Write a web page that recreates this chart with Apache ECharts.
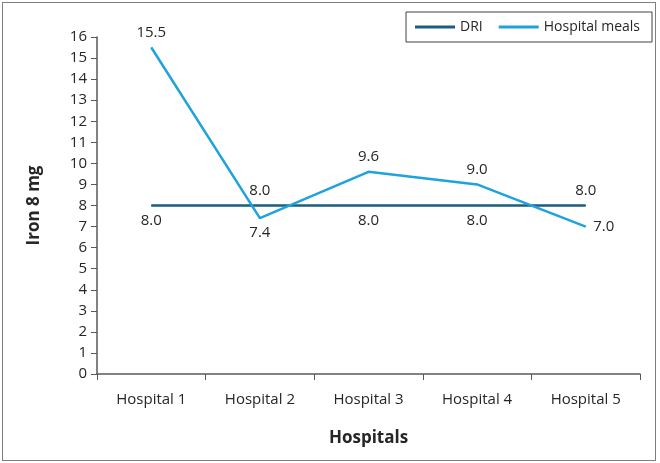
<!DOCTYPE html>
<html>
<head>
<meta charset="utf-8">
<script src="https://cdn.jsdelivr.net/npm/echarts@6/dist/echarts.min.js"></script>
<style>
  html, body { margin: 0; padding: 0; background: #fff; }
  #frame { position: absolute; left: 2px; top: 2px; width: 652px; height: 457px; border: 1px solid #7f7f7f; }
  #chart { position: absolute; left: 0; top: 0; width: 660px; height: 463px; }
</style>
</head>
<body>
<div id="frame"></div>
<div id="chart"></div>
<script>
const hospitals = ['Hospital 1', 'Hospital 2', 'Hospital 3', 'Hospital 4', 'Hospital 5']
const dri = [8.0, 8.0, 8.0, 8.0, 8.0]
const meals = [15.5, 7.4, 9.6, 9.0, 7.0]
// where each label sits
const driPos = ['bottom', 'top', 'bottom', 'bottom', 'top']
const mealPos = ['top', 'bottom', 'top', 'top', 'right']

const chart = echarts.init(document.querySelector('#chart'))
const font = 'Open Sans, Noto Sans, sans-serif'

function labelOf(pos) {
  return { show: true, position: pos, distance: 7, formatter: p => p.value.toFixed(1), fontSize: 15, color: '#262626', fontFamily: font }
}

chart.setOption({
  animation: false,
  textStyle: { fontFamily: font },
  grid: { left: 97, right: 20, top: 37, bottom: 89 },
  legend: {
    right: 8,
    top: 12,
    itemWidth: 40,
    itemHeight: 3,
    itemGap: 16,
    padding: [8, 12, 8, 9],
    borderColor: '#404040',
    borderWidth: 1,
    textStyle: { fontSize: 14, color: '#262626', fontFamily: font },
    data: [{ name: 'DRI', icon: 'rect' }, { name: 'Hospital meals', icon: 'rect' }]
  },
  xAxis: {
    type: 'category',
    data: hospitals,
    name: 'Hospitals',
    nameLocation: 'middle',
    nameGap: 56,
    nameTextStyle: { fontSize: 17, fontWeight: 'bold', color: '#262626' },
    axisLine: { lineStyle: { color: '#595959', width: 1.5 } },
    axisTick: { show: true, length: 6, lineStyle: { color: '#595959' } },
    axisLabel: { fontSize: 15, color: '#262626', margin: 18 }
  },
  yAxis: {
    type: 'value',
    min: 0,
    max: 16,
    interval: 1,
    name: 'Iron 8 mg',
    nameLocation: 'middle',
    nameGap: 54,
    nameTextStyle: { fontSize: 17, fontWeight: 'bold', color: '#262626' },
    axisLine: { show: true, lineStyle: { color: '#595959', width: 1.5 } },
    axisTick: { show: true, length: 6, lineStyle: { color: '#595959' } },
    axisLabel: { fontSize: 15, color: '#262626', margin: 10 },
    splitLine: { show: false }
  },
  series: [
    {
      name: 'DRI',
      type: 'line',
      symbol: 'circle',
      symbolSize: 1,
      color: '#1b5d7c',
      lineStyle: { width: 2.5 },
      data: dri.map((v, i) => ({ value: v, label: labelOf(driPos[i]) }))
    },
    {
      name: 'Hospital meals',
      type: 'line',
      symbol: 'circle',
      symbolSize: 1,
      color: '#1ea3dc',
      lineStyle: { width: 2.5 },
      data: meals.map((v, i) => ({ value: v, label: labelOf(mealPos[i]) }))
    }
  ]
})
</script>
</body>
</html>
